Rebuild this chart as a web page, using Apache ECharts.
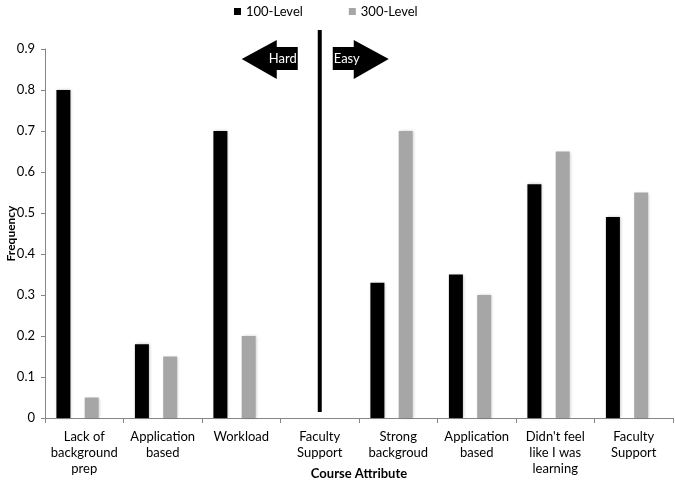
<!DOCTYPE html>
<html>
<head>
<meta charset="utf-8">
<script src="https://cdn.jsdelivr.net/npm/echarts@6/dist/echarts.min.js"></script>
<style>
  html, body { margin: 0; padding: 0; background: #fff; }
  #main { width: 675px; height: 480px; }
</style>
</head>
<body>
<div id="main"></div>
<script>
// 课程属性
var categories = ['Lack of\nbackground\nprep', 'Application\nbased', 'Workload', 'Faculty\nSupport',
  'Strong\nbackgroud', 'Application\nbased', "Didn't feel\nlike I was\nlearning", 'Faculty\nSupport'];
var level100 = [0.8, 0.18, 0.7, 0, 0.33, 0.35, 0.57, 0.49];
var level300 = [0.05, 0.15, 0.2, 0, 0.7, 0.3, 0.65, 0.55];
var yTicks = [0, 0.1, 0.2, 0.3, 0.4, 0.5, 0.6, 0.7, 0.8, 0.9];

var font = 'Lato';
var yMin = yTicks[0], yMax = yTicks[yTicks.length - 1];
var chart = echarts.init(document.getElementById('main'));
option = {
  backgroundColor: '#fff',
  animation: false,
  color: ['#000000', '#a6a6a6'],
  textStyle: { fontFamily: font },
  legend: {
    top: 0,
    left: 229,
    itemWidth: 7,
    itemHeight: 7,
    itemGap: 46,
    icon: 'rect',
    textStyle: { fontFamily: font, fontSize: 13, color: '#000' },
    data: ['100-Level', '300-Level']
  },
  // grid 0 放柱子 (Excel里柱子整体偏左), grid 1 画坐标轴
  grid: [
    { left: 38.3, right: 8.7, top: 49, bottom: 62, outerBoundsMode: 'none' },
    { left: 45, right: 2, top: 49, bottom: 62, outerBoundsMode: 'none' }
  ],
  xAxis: [{
    type: 'category',
    gridIndex: 0,
    data: categories,
    show: false
  }, {
    type: 'category',
    gridIndex: 1,
    data: categories,
    name: 'Course Attribute',
    nameLocation: 'middle',
    nameGap: 49,
    nameMoveOverlap: false,
    nameTextStyle: { fontFamily: font, fontSize: 13, fontWeight: 'bold', color: '#000' },
    axisLine: { lineStyle: { color: '#868686' } },
    axisTick: { show: true, length: 5, lineStyle: { color: '#868686' } },
    axisLabel: {
      interval: 0,
      margin: 11,
      color: '#000',
      fontFamily: font,
      fontSize: 13,
      lineHeight: 16
    }
  }],
  yAxis: [{
    type: 'value',
    gridIndex: 0,
    min: yMin,
    max: yMax,
    show: false,
    splitLine: { show: false }
  }, {
    type: 'value',
    gridIndex: 1,
    min: yMin,
    max: yMax,
    interval: 0.1,
    name: 'Frequency',
    nameLocation: 'middle',
    nameGap: 28,
    nameMoveOverlap: false,
    nameTextStyle: { fontFamily: font, fontSize: 12, fontWeight: 'bold', color: '#000' },
    axisLine: { show: true, lineStyle: { color: '#868686' } },
    axisTick: { show: true, length: 4, lineStyle: { color: '#868686' } },
    splitLine: { show: false },
    axisLabel: {
      color: '#000',
      fontFamily: font,
      fontSize: 13,
      margin: 10,
      formatter: function (v) { return v === 0 ? '0' : v.toFixed(1); }
    }
  }],
  series: [{
    name: '100-Level',
    type: 'bar',
    xAxisIndex: 0,
    yAxisIndex: 0,
    barWidth: 14,
    barGap: '102%',
    itemStyle: { shadowColor: 'rgba(0,0,0,0.25)', shadowBlur: 3, shadowOffsetX: 1 },
    data: level100
  }, {
    name: '300-Level',
    type: 'bar',
    xAxisIndex: 0,
    yAxisIndex: 0,
    barWidth: 14,
    barGap: '102%',
    itemStyle: { shadowColor: 'rgba(0,0,0,0.2)', shadowBlur: 3, shadowOffsetX: 1 },
    data: level300
  }]
};
chart.setOption(option);

// 中间分隔线和箭头
var cx = chart.convertToPixel({ xAxisIndex: 1 }, 3);
chart.setOption({
  graphic: [
    {
      type: 'line', z: 100,
      shape: { x1: cx, y1: 30, x2: cx, y2: 412 },
      style: { stroke: '#000', lineWidth: 4 }
    },
    {
      type: 'polygon', z: 100,
      shape: { points: [[cx - 78, 59], [cx - 43, 40], [cx - 43, 47], [cx - 22, 47], [cx - 22, 70], [cx - 43, 70], [cx - 43, 79]] },
      style: { fill: '#000' }
    },
    {
      type: 'text', z: 101,
      style: { text: 'Hard', x: cx - 37, y: 59, align: 'center', verticalAlign: 'middle', fill: '#fff', font: '13px Lato' }
    },
    {
      type: 'polygon', z: 100,
      shape: { points: [[cx + 69, 59], [cx + 34, 40], [cx + 34, 47], [cx + 13, 47], [cx + 13, 70], [cx + 34, 70], [cx + 34, 79]] },
      style: { fill: '#000' }
    },
    {
      type: 'text', z: 101,
      style: { text: 'Easy', x: cx + 27, y: 59, align: 'center', verticalAlign: 'middle', fill: '#fff', font: '13px Lato' }
    }
  ]
});
</script>
</body>
</html>
